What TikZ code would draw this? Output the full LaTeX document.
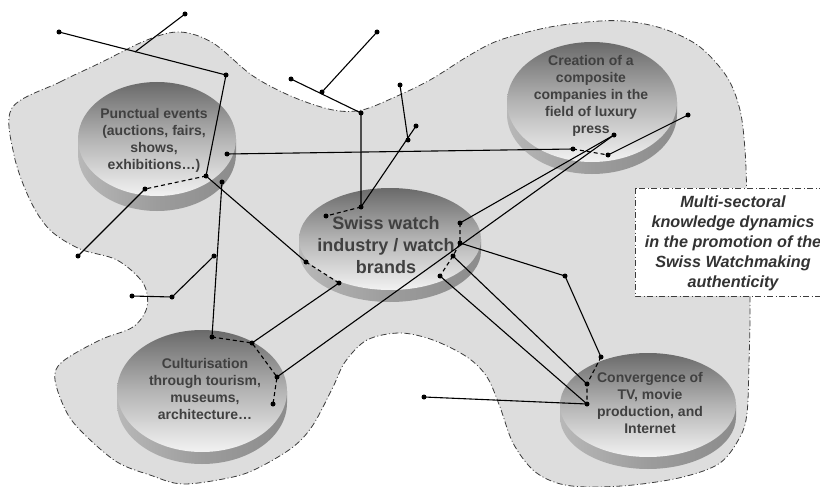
\documentclass[tikz,border=0pt]{standalone}
\usepackage{fontspec}
\setmainfont{Liberation Sans}
\definecolor{blobfill}{HTML}{DDDDDD}
\definecolor{outl}{HTML}{3C3C3C}
\definecolor{txt}{HTML}{404040}
\definecolor{boxtxt}{HTML}{333333}
\definecolor{facetop}{HTML}{6A6A6A}
\definecolor{facemid}{HTML}{B4B4B4}
\definecolor{facebot}{HTML}{F2F2F2}
\definecolor{bandl}{HTML}{B8B8B8}
\definecolor{bandm}{HTML}{9C9C9C}
\definecolor{bandr}{HTML}{8C8C8C}
\newcommand\mydisk[5]{%
  \shade[left color=bandl,right color=bandr,middle color=bandm]
    (#1-#3,#2) -- (#1-#3,#2+#5) arc[start angle=180,end angle=0,x radius=#3,y radius=#4] -- (#1+#3,#2) -- cycle;
  \shade[top color=facetop,bottom color=facebot,middle color=facemid]
    (#1,#2) ellipse[x radius=#3,y radius=#4];
}
\begin{document}
\begin{tikzpicture}[x=1pt,y=-1pt,
  blob/.style={fill=blobfill,draw=outl,line width=0.8pt,dash pattern=on 6pt off 2.5pt on 1pt off 2.5pt},
  conn/.style={draw=black,line width=1.1pt},
  dconn/.style={draw=black,line width=1.1pt,dash pattern=on 4pt off 3pt},
  lbl/.style={font=\bfseries\fontsize{14}{17}\selectfont,text=txt,align=center,inner sep=0pt},
  bigl/.style={font=\bfseries\fontsize{18}{21.7}\selectfont,text=txt,align=center,inner sep=0pt},
  boxl/.style={font=\bfseries\itshape\fontsize{16.2}{20}\selectfont,text=boxtxt,align=center,inner sep=0pt}]
\useasboundingbox (0,0) rectangle (820,487);
\clip (0,0) rectangle (820,487);
% background blob
\draw[blob] plot[smooth cycle,tension=0.55] coordinates {
 (12,108) (60,82) (100,63) (147,40) (180,32) (213,43) (253,76) (293,97)
 (333,110) (362,110) (395,97) (430,80) (470,55) (500,40) (550,27) (600,21)
 (633,22) (667,30) (700,47) (727,77) (740,110) (745,150) (747,200)
 (750,297) (749,363) (747,413) (740,437) (720,463) (683,477) (633,485)
 (587,487) (557,483) (533,470) (513,443) (500,407) (487,377) (467,357)
 (433,340) (400,333) (367,340) (345,362) (333,387) (313,425) (293,447)
 (260,467) (233,477) (183,484) (150,475) (117,462) (85,435) (67,413)
 (55,380) (62,362) (100,340) (133,327) (147,307) (143,283) (117,260)
 (80,249) (50,230) (30,200) (14,155)};
% disks
\mydisk{157}{139}{79}{57}{15}
\mydisk{390}{239}{91}{51}{12}
\mydisk{592}{102}{85}{60}{12}
\mydisk{202}{391}{85}{61}{12}
\mydisk{648}{405}{88}{52}{12}
% labels
\node[lbl] (punct) at (154,140.5) {Punctual events\\(auctions, fairs,\\shows,\\exhibitions…)};
\node[bigl] (swiss) at (386,245) {Swiss watch\\industry / watch\\brands};
\node[lbl] (creat) at (591,96) {Creation of a\\composite\\companies in the\\field of luxury\\press};
\node[lbl] (cult) at (205,389) {Culturisation\\through tourism,\\museums,\\architecture…};
\node[lbl] (conv) at (650,402.5) {Convergence of\\TV, movie\\production, and\\Internet};
% box
\draw[fill=white,draw=outl,line width=0.8pt,dash pattern=on 6pt off 2.5pt on 1pt off 2.5pt] (635,188) rectangle (850,296);
\node[boxl] (msk) at (733,243) {Multi-sectoral\\knowledge dynamics\\in the promotion of the\\Swiss Watchmaking\\authenticity};
% points
\coordinate (p1) at (59,32);
\coordinate (p2) at (226,75);
\coordinate (p3) at (185,14);
\coordinate (p4) at (135,52);
\coordinate (p5) at (206,176);
\coordinate (p6) at (145,189);
\coordinate (p7) at (78,256);
\coordinate (p8) at (227,154);
\coordinate (p9) at (573,149);
\coordinate (p10) at (306,262);
\coordinate (p11) at (339,283);
\coordinate (p12) at (252,343);
\coordinate (p13) at (222,182);
\coordinate (p14) at (212,337);
\coordinate (p15) at (277,377);
\coordinate (p16) at (273,404);
\coordinate (p17) at (614,135);
\coordinate (p18) at (460,223);
\coordinate (p19) at (460,243);
\coordinate (p20) at (453,256);
\coordinate (p21) at (440,276);
\coordinate (p22) at (565,276);
\coordinate (p23) at (601,357);
\coordinate (p24) at (587,384);
\coordinate (p25) at (587,404);
\coordinate (p26) at (424,397);
\coordinate (p27) at (608,155);
\coordinate (p28) at (688,115);
\coordinate (p29) at (377,32);
\coordinate (p30) at (322,92);
\coordinate (p31) at (291,79);
\coordinate (p32) at (361,113);
\coordinate (p33) at (361,207);
\coordinate (p34) at (326,216);
\coordinate (p35) at (416,126);
\coordinate (p36) at (400,85);
\coordinate (p37) at (408,140);
\coordinate (p38) at (132,296);
\coordinate (p39) at (172,297);
\coordinate (p40) at (214,256);
% solid connectors
\draw[conn] (p1) -- (p2);
\draw[conn] (p3) -- (p4);
\draw[conn] (p2) -- (p5);
\draw[conn] (p6) -- (p7);
\draw[conn] (p8) -- (p9);
\draw[conn] (p5) -- (p10);
\draw[conn] (p11) -- (p12);
\draw[conn] (p13) -- (p14);
\draw[conn] (p15) -- (p17);
\draw[conn] (p18) -- (p17);
\draw[conn] (p19) -- (p22) -- (p23);
\draw[conn] (p20) -- (p24);
\draw[conn] (p21) -- (p25);
\draw[conn] (p26) -- (p25);
\draw[conn] (p27) -- (p28);
\draw[conn] (p29) -- (p30);
\draw[conn] (p31) -- (p32) -- (p33) -- (p35);
\draw[conn] (p36) -- (p37);
\draw[conn] (p38) -- (p39) -- (p40);
% dashed connectors
\draw[dconn] (p5) -- (p6);
\draw[dconn] (p10) -- (p11);
\draw[dconn] (p14) -- (p12) -- (p15) -- (p16);
\draw[dconn] (p18) -- (p19) -- (p20) -- (p21);
\draw[dconn] (p23) -- (p24) -- (p25);
\draw[dconn] (p9) -- (p27);
\draw[dconn] (p33) -- (p34);
% dots
\foreach \p in {p1,p2,p3,p5,p6,p7,p8,p9,p10,p11,p12,p13,p14,p15,p16,p17,p18,p19,p20,p21,p22,p23,p24,p25,p26,p27,p28,p29,p30,p31,p32,p33,p34,p35,p36,p37,p38,p39,p40}
  \fill (\p) circle[radius=2.5];
\end{tikzpicture}
\end{document}
